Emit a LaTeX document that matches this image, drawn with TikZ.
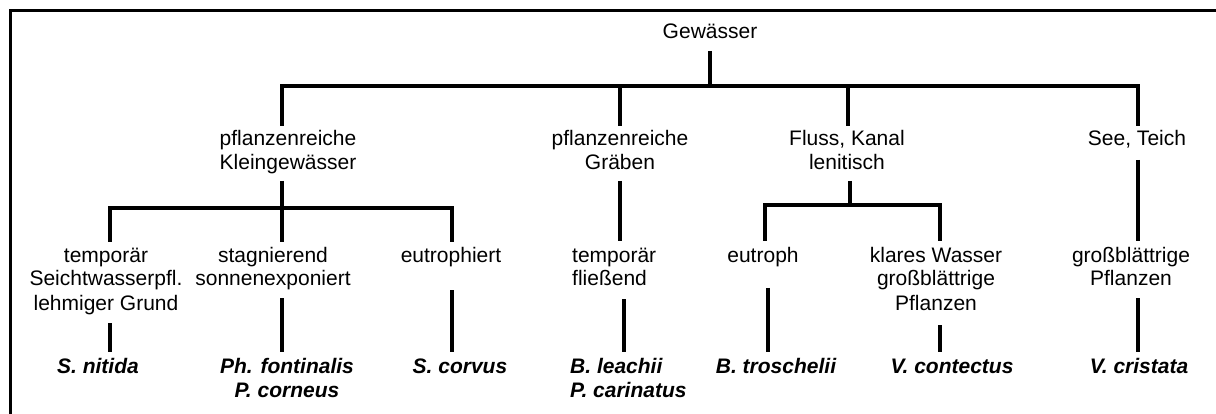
\documentclass[tikz,border=0pt]{standalone}
\usepackage{fontspec}
\setmainfont{Liberation Sans}
\usetikzlibrary{calc}
\newcommand{\mytab}[2]{\begin{tabular}[t]{@{}#1@{}}#2\end{tabular}}
\tikzset{
  lbl/.style={anchor=base, inner sep=0pt, font=\fontsize{21}{24}\selectfont},
  spec/.style={anchor=base, inner sep=0pt, font=\fontsize{21}{24}\selectfont\bfseries\itshape},
  conn/.style={line width=3.2pt, line join=miter, line cap=butt},
  frame/.style={line width=3.2pt, line join=miter}
}
\begin{document}
\begin{tikzpicture}[x=1pt,y=-1pt]
\useasboundingbox (0,0) rectangle (1216,414);
\renewcommand{\arraystretch}{1}
% frame
\draw[frame] (1217,10.5) -- (10.5,10.5) -- (10.5,415);

% text nodes
\node[lbl] (gew) at (710,39) {Gewässer};
\node[lbl] (k1) at (288,146) {\mytab{c}{pflanzenreiche\\Kleingewässer}};
\node[lbl] (g1) at (620,146) {\mytab{c}{pflanzenreiche\\Gräben}};
\node[lbl] (f1) at (847,146) {\mytab{c}{Fluss, Kanal\\lenitisch}};
\node[lbl] (s1) at (1137,146) {See, Teich};

\node[lbl] (t1) at (106,262) {\mytab{c}{temporär\\Seichtwasserpfl.\\lehmiger Grund}};
\node[lbl] (st) at (273,262) {\mytab{c}{stagnierend\\sonnenexponiert}};
\node[lbl] (eu) at (451,262) {eutrophiert};
\node[lbl,anchor=base west] (tf) at (572,262) {\mytab{l}{temporär\\fließend}};
\node[lbl] (eh) at (763,262) {eutroph};
\node[lbl] (kw) at (936,262) {\mytab{c}{klares Wasser\\großblättrige\\Pflanzen}};
\node[lbl] (gp) at (1131,262) {\mytab{c}{großblättrige\\Pflanzen}};

\node[spec] (sn) at (98,373) {S. nitida};
\node[spec] (pf) at (287,373) {\mytab{c}{Ph. fontinalis\\P. corneus}};
\node[spec] (sc) at (460,373) {S. corvus};
\node[spec,anchor=base west] (bl) at (570,373) {\mytab{l}{B. leachii\\P. carinatus}};
\node[spec] (bt) at (776,373) {B. troschelii};
\node[spec] (vc) at (952,373) {V. contectus};
\node[spec] (vr) at (1139,373) {V. cristata};

% connection ports
\coordinate (gewb) at (710,51);
\coordinate (bar1) at (710,86);
\coordinate (k1t) at (282,126);
\coordinate (g1t) at (620,126);
\coordinate (f1t) at (848,126);
\coordinate (s1t) at (1138,126);

\coordinate (k1b) at (282,181);
\coordinate (bar2a) at (282,208);
\coordinate (g1b) at (620,181);
\coordinate (f1b) at (850,181);
\coordinate (bar2b) at (850,205);
\coordinate (s1b) at (1138,160);

\coordinate (t1t) at (110,242);
\coordinate (stt) at (282,242);
\coordinate (eut) at (452,242);
\coordinate (tft) at (620,241);
\coordinate (eht) at (765,241);
\coordinate (kwt) at (940,241);
\coordinate (gpt) at (1138,241);

\coordinate (t1b) at (110,323);
\coordinate (stb) at (282,298);
\coordinate (eub) at (452,290);
\coordinate (tfb) at (624,299);
\coordinate (ehb) at (768,288);
\coordinate (kwb) at (940,325);
\coordinate (gpb) at (1138,298);

\coordinate (snt) at (110,352);
\coordinate (pft) at (282,352);
\coordinate (sct) at (452,352);
\coordinate (blt) at (624,352);
\coordinate (btt) at (768,352);
\coordinate (vct) at (940,352);
\coordinate (vrt) at (1138,352);

% level 1
\draw[conn] (gewb) -- (bar1);
\draw[conn] (k1t) -- (k1t |- bar1) -- (s1t |- bar1) -- (s1t);
\draw[conn] (g1t) -- (g1t |- bar1);
\draw[conn] (f1t) -- (f1t |- bar1);

% level 2
\draw[conn] (k1b) -- (bar2a);
\draw[conn] (t1t) -- (t1t |- bar2a) -- (eut |- bar2a) -- (eut);
\draw[conn] (stt) -- (stt |- bar2a);
\draw[conn] (g1b) -- (tft);
\draw[conn] (f1b) -- (bar2b);
\draw[conn] (eht) -- (eht |- bar2b) -- (kwt |- bar2b) -- (kwt);
\draw[conn] (s1b) -- (gpt);

% level 3
\draw[conn] (t1b) -- (snt);
\draw[conn] (stb) -- (pft);
\draw[conn] (eub) -- (sct);
\draw[conn] (tfb) -- (blt);
\draw[conn] (ehb) -- (btt);
\draw[conn] (kwb) -- (vct);
\draw[conn] (gpb) -- (vrt);
\end{tikzpicture}
\end{document}
